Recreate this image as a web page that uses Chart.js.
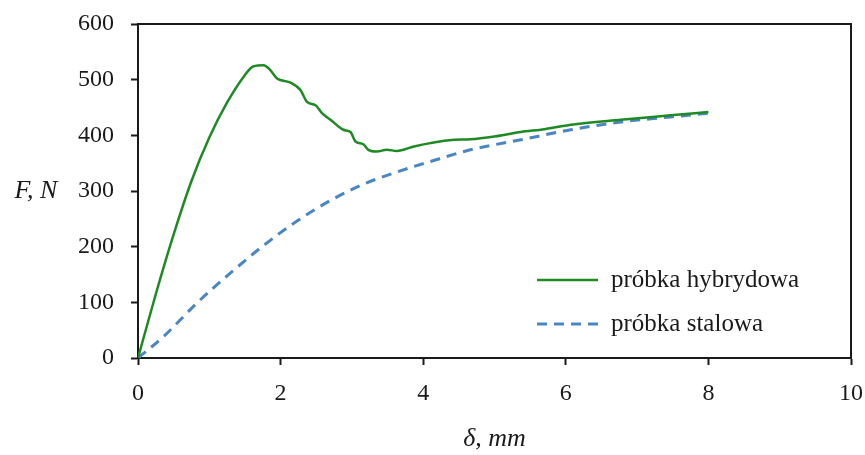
<!DOCTYPE html>
<html>
<head>
<meta charset="utf-8">
<script src="https://cdn.jsdelivr.net/npm/chart.js@4"></script>
<style>
	html, body { margin: 0; padding: 0; background: #fff; }
	#wrap { width: 865px; height: 455px; position: relative; }
</style>
</head>
<body>
<div id="wrap"><canvas id="chartForce"></canvas></div>
<script>
	'use strict';

	// delta [mm] / F [N]
	var xHybrid = [0, 0.25, 0.5, 0.75, 1.0, 1.25, 1.48, 1.62, 1.76, 1.85, 1.95, 2.13, 2.28, 2.37, 2.49, 2.58, 2.70, 2.88, 2.98, 3.05, 3.16, 3.23, 3.35, 3.49, 3.63, 3.87, 4.10, 4.43, 4.66, 5.0, 5.37, 5.7, 6.07, 6.77, 7.47, 8.0];
	var fHybrid = [0, 115, 222, 318, 396, 459, 505, 524, 526, 518, 502, 495, 481, 460, 454, 440, 428, 410, 406, 389, 384, 374, 371, 374, 372, 380, 386, 392, 393, 398, 406, 411, 419, 428, 436, 442];
	var xSteel = [0, 0.355, 0.82, 1.29, 1.76, 2.23, 2.70, 3.16, 3.63, 4.10, 4.66, 5.37, 6.07, 6.77, 7.47, 8.0];
	var fSteel = [0, 38, 98, 152, 202, 246, 283, 312, 334, 353, 374, 392, 410, 424, 433, 440];
	var xTicks = [0, 2, 4, 6, 8, 10];
	var yTicks = [0, 100, 200, 300, 400, 500, 600];
	var seriesNames = ['próbka hybrydowa', 'próbka stalowa'];

	function toPoints(xs, ys) {
		return xs.map(function(x, i) { return { x: x, y: ys[i] }; });
	}

	var serif = '"Liberation Serif", "DejaVu Serif", serif';

	// frame, axis titles and in-plot legend
	var extras = {
		id: 'extras',
		afterDraw: function(chart) {
			var c = chart.ctx;
			var a = chart.chartArea;
			c.save();
			c.strokeStyle = '#1a1a1a';
			c.lineWidth = 2;
			c.beginPath();
			c.moveTo(a.left, a.top);
			c.lineTo(a.right, a.top);
			c.lineTo(a.right, a.bottom);
			c.stroke();

			c.fillStyle = '#1a1a1a';
			c.font = 'italic 26px ' + serif;
			c.textBaseline = 'middle';
			c.textAlign = 'center';
			c.fillText('F, N', 36, chart.scales.y.getPixelForValue(300));
			c.fillText('δ, mm', (a.left + a.right) / 2, 439);

			// legend
			var rows = [a.top + 256, a.top + 300];
			chart.data.datasets.forEach(function(ds, i) {
				c.strokeStyle = ds.borderColor;
				c.lineWidth = ds.borderWidth;
				c.setLineDash(ds.borderDash || []);
				c.beginPath();
				c.moveTo(537, rows[i]);
				c.lineTo(598, rows[i]);
				c.stroke();
				c.setLineDash([]);
				c.fillStyle = '#1a1a1a';
				c.font = '25px ' + serif;
				c.textAlign = 'left';
				c.fillText(ds.label, 611, rows[i]);
			});
			c.restore();
		}
	};

	var ctx = document.getElementById('chartForce').getContext('2d');
	new Chart(ctx, {
		type: 'line',
		data: {
			datasets: [{
				label: seriesNames[0],
				data: toPoints(xHybrid, fHybrid),
				borderColor: '#1f8a24',
				borderWidth: 2.5,
				pointRadius: 0,
				cubicInterpolationMode: 'monotone'
			}, {
				label: seriesNames[1],
				data: toPoints(xSteel, fSteel),
				borderColor: '#4a85c4',
				borderWidth: 3,
				borderDash: [10, 7],
				pointRadius: 0,
				cubicInterpolationMode: 'monotone'
			}]
		},
		options: {
			animation: false,
			responsive: true,
			maintainAspectRatio: false,
			layout: {
				padding: { top: 24, right: 14, left: 0, bottom: 0 }
			},
			plugins: {
				legend: { display: false },
				tooltip: { enabled: false }
			},
			scales: {
				x: {
					type: 'linear',
					min: 0,
					max: 10,
					afterBuildTicks: function(scale) {
						scale.ticks = xTicks.map(function(v) { return { value: v }; });
					},
					afterFit: function(scale) {
						scale.height = 97;
						scale.paddingLeft = 0;
						scale.paddingRight = 0;
					},
					grid: {
						drawOnChartArea: false,
						tickLength: 7,
						color: '#1a1a1a',
						tickWidth: 2
					},
					border: { color: '#1a1a1a', width: 2 },
					ticks: {
						color: '#1a1a1a',
						padding: 14,
						maxRotation: 0,
						font: { family: serif, size: 24 }
					}
				},
				y: {
					type: 'linear',
					min: 0,
					max: 600,
					afterBuildTicks: function(scale) {
						scale.ticks = yTicks.map(function(v) { return { value: v }; });
					},
					afterFit: function(scale) {
						scale.width = 138;
						scale.paddingTop = 0;
						scale.paddingBottom = 0;
					},
					grid: {
						drawOnChartArea: false,
						tickLength: 7,
						color: '#1a1a1a',
						tickWidth: 2
					},
					border: { color: '#1a1a1a', width: 2 },
					ticks: {
						color: '#1a1a1a',
						padding: 17,
						font: { family: serif, size: 24 }
					}
				}
			}
		},
		plugins: [extras]
	});
</script>
</body>
</html>
